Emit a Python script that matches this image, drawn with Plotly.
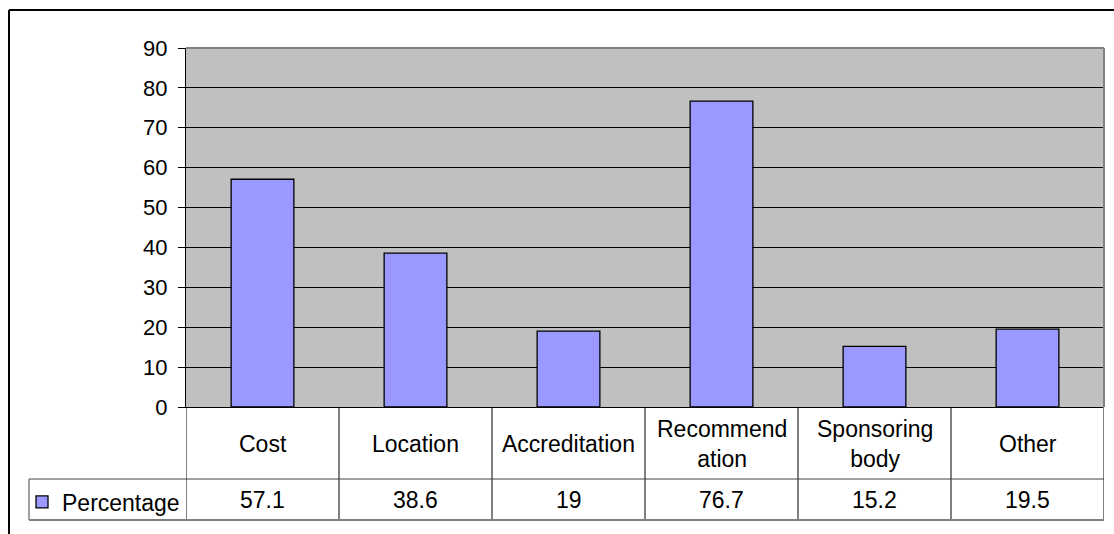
import plotly.graph_objects as go

categories = ["Cost", "Location", "Accreditation", "Recommendation", "Sponsoring body", "Other"]
table_labels = ["Cost", "Location", "Accreditation", "Recommend<br>ation", "Sponsoring<br>body", "Other"]
percentage = [57.1, 38.6, 19, 76.7, 15.2, 19.5]
series_name = "Percentage"
y_ticks = [0, 10, 20, 30, 40, 50, 60, 70, 80, 90]

W, H = 1114, 534
FONT = "Liberation Sans, Arial, sans-serif"
FS_TICK = 22
FS_TAB = 23

def px_x(p):
    return p / W

def px_y(p):
    return 1 - p / H

x_dom = [px_x(186), px_x(1104)]
y_dom = [px_y(407), px_y(48)]

fig = go.Figure()
fig.add_trace(go.Bar(
    x=categories, y=percentage, name=series_name,
    marker=dict(color="#9999FF", line=dict(color="#000000", width=1.3)),
    showlegend=True,
))

shapes = []
# outer chart frame (top and left visible)
shapes.append(dict(type="line", xref="paper", yref="paper", x0=px_x(9), x1=1.02, y0=px_y(10), y1=px_y(10),
                   line=dict(color="#000000", width=2)))
shapes.append(dict(type="line", xref="paper", yref="paper", x0=px_x(9), x1=px_x(9), y0=px_y(10), y1=-0.05,
                   line=dict(color="#000000", width=2)))
# plot area border top/right
shapes.append(dict(type="line", xref="x domain", yref="y domain", x0=0, x1=1, y0=1, y1=1,
                   line=dict(color="#808080", width=2)))
shapes.append(dict(type="line", xref="x domain", yref="y domain", x0=1, x1=1, y0=0, y1=1,
                   line=dict(color="#808080", width=2)))

row_mid = px_y(479)
row_bot = px_y(520)
n = len(categories)
for i in range(n + 1):
    xb = -0.5 + i
    col = "#808080" if i == n else "#000000"
    w = 2 if i == n else 1
    shapes.append(dict(type="line", xref="x", yref="paper", x0=xb, x1=xb, y0=row_bot, y1=y_dom[0],
                       line=dict(color=col, width=w)))
shapes.append(dict(type="line", xref="paper", yref="paper", x0=px_x(29), x1=x_dom[1], y0=row_mid, y1=row_mid,
                   line=dict(color="#404040", width=1)))
shapes.append(dict(type="line", xref="paper", yref="paper", x0=px_x(29), x1=x_dom[1], y0=row_bot, y1=row_bot,
                   line=dict(color="#808080", width=2)))
shapes.append(dict(type="line", xref="paper", yref="paper", x0=px_x(29), x1=px_x(29), y0=row_bot, y1=row_mid,
                   line=dict(color="#808080", width=1.5)))

annotations = []
for c, lab, v in zip(categories, table_labels, percentage):
    annotations.append(dict(x=c, xref="x", yref="paper", y=px_y(444), yanchor="middle", text=lab,
                            showarrow=False, align="center",
                            font=dict(family=FONT, size=FS_TAB, color="#000000")))
    annotations.append(dict(x=c, xref="x", yref="paper", y=px_y(500), yanchor="middle", text=f"{v:g}",
                            showarrow=False,
                            font=dict(family=FONT, size=FS_TAB, color="#000000")))

fig.update_layout(
    width=W, height=H,
    margin=dict(l=0, r=0, t=0, b=0, autoexpand=False),
    paper_bgcolor="#FFFFFF",
    plot_bgcolor="#C0C0C0",
    bargap=0.59,
    font=dict(family=FONT, size=FS_TAB, color="#000000"),
    xaxis=dict(domain=x_dom, range=[-0.5, n - 0.5], showticklabels=False, ticks="", automargin=False,
               showgrid=False, zeroline=False, showline=True, linecolor="#000000", linewidth=1),
    yaxis=dict(domain=y_dom, range=[0, 90], tickvals=y_ticks, ticks="outside", ticklen=7,
               tickcolor="#000000", ticklabelstandoff=6, automargin=False,
               showgrid=True, gridcolor="#000000", gridwidth=1, zeroline=False,
               showline=True, linecolor="#000000", linewidth=1,
               tickfont=dict(family=FONT, size=FS_TICK, color="#000000")),
    legend=dict(x=px_x(22), y=px_y(502), xanchor="left", yanchor="middle",
                bgcolor="rgba(0,0,0,0)", font=dict(family=FONT, size=FS_TAB, color="#000000")),
    shapes=shapes,
    annotations=annotations,
)

fig.write_html("out.html", config={"displayModeBar": False},
               post_script="document.body.style.margin='0';document.body.style.overflow='hidden';")
